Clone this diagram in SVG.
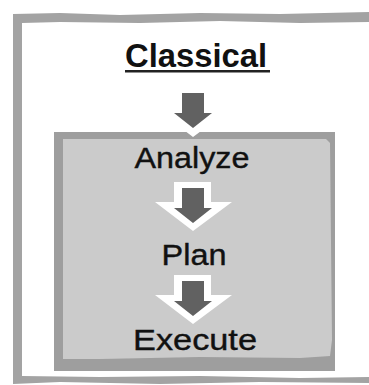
<svg xmlns="http://www.w3.org/2000/svg" width="369" height="385" viewBox="0 0 369 385">
  <defs>
    <style>
      .frame { fill: #a3a3a3; }
      .lbl { font-family: "Liberation Sans", Arial, sans-serif; font-size: 30px; fill: #111; stroke: #111; stroke-width: 0.4; text-anchor: middle; }
      .ttl { font-family: "Liberation Sans", Arial, sans-serif; font-size: 33px; font-weight: bold; fill: #111; text-anchor: middle; }
      .arr { fill: #616161; }
      .halo { fill: #ffffff; }
    </style>
    <polygon id="halo" points="-19,0 18,0 18,20 39,20 0,49 -38,20 -19,20"/>
    <polygon id="dart" points="-11,0 11,0 11,20 19,20 0,35 -19,20 -11,20"/>
  </defs>
  <rect width="369" height="385" fill="#ffffff"/>
  <g id="outer-frame">
    <path class="frame" d="M13,14 L60,13 L120,15 L200,13 L280,14 L369,12 L369,22 L300,23 L220,21 L140,23 L60,22 L22,23 L22,376 L100,377 L200,376 L300,378 L369,377 L369,383 L260,382 L160,384 L60,382 L13,384 Z"/>
  </g>
  <g id="process-box">
    <rect x="54" y="132" width="281" height="239" fill="#9e9e9e"/>
    <path d="M63,139 L326,139 L330,143 L332,340 L330,356 L300,358 L200,357 L100,359 L63,359 Z" fill="#cbcbcb"/>
  </g>
  <g id="connectors">
    <use href="#halo" class="halo" x="193" y="88"/>
    <use href="#dart" class="arr" x="193" y="93"/>
    <use href="#halo" class="halo" x="193" y="182"/>
    <use href="#dart" class="arr" x="193" y="188"/>
    <use href="#halo" class="halo" x="193" y="275"/>
    <use href="#dart" class="arr" x="193" y="281"/>
  </g>
  <g id="title">
    <text class="ttl" x="196" y="67" textLength="142" lengthAdjust="spacingAndGlyphs">Classical</text>
    <rect x="125" y="70" width="145" height="2.5" fill="#222"/>
  </g>
  <g id="analyze">
    <text class="lbl" x="192" y="168" textLength="115" lengthAdjust="spacingAndGlyphs">Analyze</text>
  </g>
  <g id="plan">
    <text class="lbl" x="194" y="265" textLength="65" lengthAdjust="spacingAndGlyphs">Plan</text>
  </g>
  <g id="execute">
    <text class="lbl" x="195" y="350" textLength="124" lengthAdjust="spacingAndGlyphs">Execute</text>
  </g>
</svg>
